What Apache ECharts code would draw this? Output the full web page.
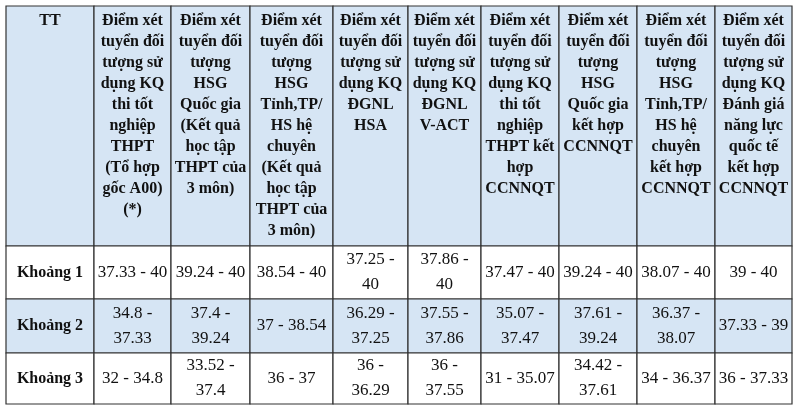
<!DOCTYPE html>
<html><head><meta charset="utf-8">
<script src="https://cdn.jsdelivr.net/npm/echarts@6/dist/echarts.min.js"></script>
<style>html,body{margin:0;padding:0;background:#fff}#c{width:800px;height:409px}</style>
</head><body><div id="c"></div>
<script>
var headers = [
 "TT",
 "Điểm xét\ntuyển đối\ntượng sử\ndụng KQ\nthi tốt\nnghiệp\nTHPT\n(Tổ hợp\ngốc A00)\n(*)",
 "Điểm xét\ntuyển đối\ntượng\nHSG\nQuốc gia\n(Kết quả\nhọc tập\nTHPT của\n3 môn)",
 "Điểm xét\ntuyển đối\ntượng\nHSG\nTỉnh,TP/\nHS hệ\nchuyên\n(Kết quả\nhọc tập\nTHPT của\n3 môn)",
 "Điểm xét\ntuyển đối\ntượng sử\ndụng KQ\nĐGNL\nHSA",
 "Điểm xét\ntuyển đối\ntượng sử\ndụng KQ\nĐGNL\nV-ACT",
 "Điểm xét\ntuyển đối\ntượng sử\ndụng KQ\nthi tốt\nnghiệp\nTHPT kết\nhợp\nCCNNQT",
 "Điểm xét\ntuyển đối\ntượng\nHSG\nQuốc gia\nkết hợp\nCCNNQT",
 "Điểm xét\ntuyển đối\ntượng\nHSG\nTỉnh,TP/\nHS hệ\nchuyên\nkết hợp\nCCNNQT",
 "Điểm xét\ntuyển đối\ntượng sử\ndụng KQ\nĐánh giá\nnăng lực\nquốc tế\nkết hợp\nCCNNQT"
];
var rowLabels = ["Khoảng 1","Khoảng 2","Khoảng 3"];
var row1 = ["37.33 - 40","39.24 - 40","38.54 - 40","37.25 -\n40","37.86 -\n40","37.47 - 40","39.24 - 40","38.07 - 40","39 - 40"];
var row2 = ["34.8 -\n37.33","37.4 -\n39.24","37 - 38.54","36.29 -\n37.25","37.55 -\n37.86","35.07 -\n37.47","37.61 -\n39.24","36.37 -\n38.07","37.33 - 39"];
var row3 = ["32 - 34.8","33.52 -\n37.4","36 - 37","36 -\n36.29","36 -\n37.55","31 - 35.07","34.42 -\n37.61","34 - 36.37","36 - 37.33"];

// layout (not data)
var colEdges = [6,94,171,250,333,408,481,559,637,715,792];
var rowEdges = [6,246,299,353,404];
var rowFill = ['#d6e5f4','#ffffff','#d6e5f4','#ffffff'];

var cells = [];
headers.forEach(function(t,i){cells.push([i,0,t]);});
[row1,row2,row3].forEach(function(r,ri){
  cells.push([0,ri+1,rowLabels[ri]]);
  r.forEach(function(t,i){cells.push([i+1,ri+1,t]);});
});

var chart = echarts.init(document.getElementById('c'));
chart.setOption({
  animation:false,
  grid:{left:0,right:0,top:0,bottom:0},
  xAxis:{type:'value',min:0,max:800,show:false},
  yAxis:{type:'value',min:0,max:409,inverse:true,show:false},
  series:[{
    type:'custom',
    data:cells,
    renderItem:function(params,api){
      var c=api.value(0), r=api.value(1);
      var t=cells[params.dataIndex][2];
      var p0=api.coord([colEdges[c],rowEdges[r]]);
      var p1=api.coord([colEdges[c+1],rowEdges[r+1]]);
      var header=r===0, bold=header||c===0;
      var cx=(p0[0]+p1[0])/2;
      return {type:'group',children:[
        {type:'rect',shape:{x:p0[0],y:p0[1],width:p1[0]-p0[0],height:p1[1]-p0[1]},
         style:{fill:rowFill[r],stroke:'#333',lineWidth:1.2}},
        {type:'text',style:{text:t,x:cx,y:header?p0[1]+4:(p0[1]+p1[1])/2,
          align:'center',verticalAlign:header?'top':'middle',
          font:(bold?'bold ':'')+(bold?'16px':'17px')+' "Liberation Serif", "DejaVu Serif", serif',
          lineHeight:header?21:25,fill:'#111'}}
      ]};
    }
  }]
});
</script></body></html>
